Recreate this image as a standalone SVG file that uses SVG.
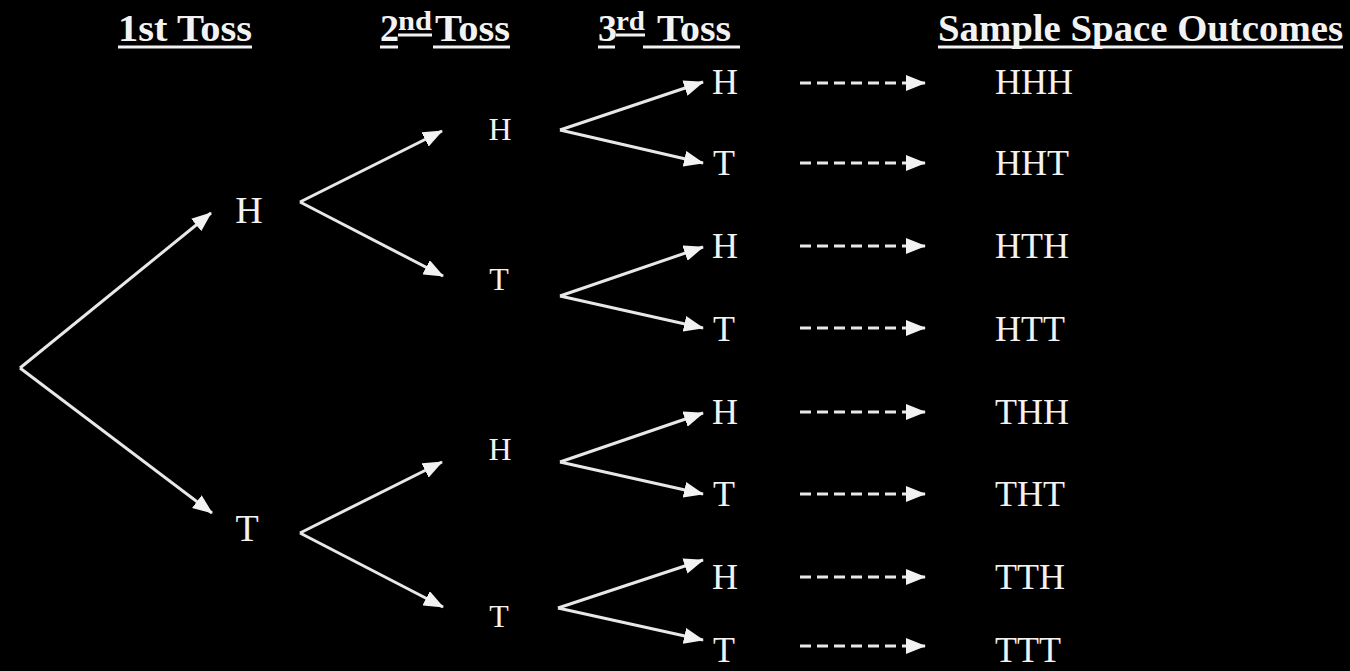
<svg xmlns="http://www.w3.org/2000/svg" width="1350" height="671" viewBox="0 0 1350 671">
<style>
.t{font-family:"Liberation Serif","Times New Roman",serif;fill:#f2f2f2}
.hd{font-weight:bold;font-size:38px}
.sup{font-weight:bold;font-size:28px}
.n1{font-size:38px;text-anchor:middle}
.n2{font-size:32px;text-anchor:middle}
.n3{font-size:36px;text-anchor:middle}
.o{font-size:36px}
.ul{stroke:#f2f2f2;stroke-width:3}
.c{stroke:#e8e8e8;stroke-width:3;fill:none;marker-end:url(#ah)}
.d{stroke:#e8e8e8;stroke-width:3;fill:none;stroke-dasharray:11 6;marker-end:url(#ah)}
</style>
<defs>
<marker id="ah" markerUnits="userSpaceOnUse" markerWidth="20" markerHeight="16" refX="19" refY="8" orient="auto">
<path d="M0,0 L20,8 L0,16 z" fill="#f2f2f2"/>
</marker>
</defs>
<rect width="1350" height="671" fill="#000"/>
<g id="headers">
<g id="h1"><text class="t hd" x="118" y="41" textLength="134" lengthAdjust="spacingAndGlyphs">1st Toss</text><line class="ul" x1="118" y1="47" x2="252" y2="47"/></g>
<g id="h2"><text class="t hd" x="380" y="41">2</text><text class="t sup" x="398" y="30" textLength="34" lengthAdjust="spacingAndGlyphs">nd</text><text class="t hd" x="435" y="41" textLength="75" lengthAdjust="spacingAndGlyphs">Toss</text><line class="ul" x1="380" y1="47" x2="398" y2="47"/><line class="ul" x1="398" y1="35" x2="432" y2="35"/><line class="ul" x1="433" y1="47" x2="510" y2="47"/></g>
<g id="h3"><text class="t hd" x="598" y="41">3</text><text class="t sup" x="616" y="30" textLength="29" lengthAdjust="spacingAndGlyphs">rd</text><text class="t hd" x="657" y="41" textLength="74" lengthAdjust="spacingAndGlyphs">Toss</text><line class="ul" x1="598" y1="47" x2="615" y2="47"/><line class="ul" x1="616" y1="35" x2="645" y2="35"/><line class="ul" x1="643" y1="47" x2="740" y2="47"/></g>
<g id="h4"><text class="t hd" x="938" y="41" textLength="405" lengthAdjust="spacingAndGlyphs">Sample Space Outcomes</text><line class="ul" x1="938" y1="47" x2="1343" y2="47"/></g>
</g>
<g id="connectors">
<path class="c" d="M20,368 L211,213"/>
<path class="c" d="M20,368 L212,513"/>
<path class="c" d="M300,202 L442,131"/>
<path class="c" d="M300,202 L443,276"/>
<path class="c" d="M300,533 L442,462"/>
<path class="c" d="M300,533 L443,607"/>
<path class="c" d="M560,130 L703,82"/>
<path class="c" d="M560,130 L703,163"/>
<path class="c" d="M560,296 L703,247"/>
<path class="c" d="M560,296 L703,328"/>
<path class="c" d="M560,462 L703,413"/>
<path class="c" d="M560,462 L703,494"/>
<path class="c" d="M558,608 L703,560"/>
<path class="c" d="M558,608 L703,640"/>
<path class="d" d="M800,83 L925,83"/>
<path class="d" d="M800,163 L925,163"/>
<path class="d" d="M800,246 L925,246"/>
<path class="d" d="M800,328 L925,328"/>
<path class="d" d="M800,412 L925,412"/>
<path class="d" d="M800,494 L925,494"/>
<path class="d" d="M800,577 L925,577"/>
<path class="d" d="M800,646 L925,646"/>
</g>
<g id="n1H"><text class="t n1" x="249" y="223">H</text></g>
<g id="n1T"><text class="t n1" x="247" y="541">T</text></g>
<g id="n2HH"><text class="t n2" x="500" y="140">H</text></g>
<g id="n2HT"><text class="t n2" x="499" y="290">T</text></g>
<g id="n2TH"><text class="t n2" x="500" y="460">H</text></g>
<g id="n2TT"><text class="t n2" x="499" y="627">T</text></g>
<g id="n3HHH"><text class="t n3" x="725" y="94">H</text></g>
<g id="n3HHT"><text class="t n3" x="724" y="175">T</text></g>
<g id="n3HTH"><text class="t n3" x="725" y="258">H</text></g>
<g id="n3HTT"><text class="t n3" x="724" y="341">T</text></g>
<g id="n3THH"><text class="t n3" x="725" y="424">H</text></g>
<g id="n3THT"><text class="t n3" x="724" y="506">T</text></g>
<g id="n3TTH"><text class="t n3" x="725" y="589">H</text></g>
<g id="n3TTT"><text class="t n3" x="724" y="662">T</text></g>
<g id="oHHH"><text class="t o" x="995" y="94">HHH</text></g>
<g id="oHHT"><text class="t o" x="995" y="175">HHT</text></g>
<g id="oHTH"><text class="t o" x="995" y="258">HTH</text></g>
<g id="oHTT"><text class="t o" x="995" y="341">HTT</text></g>
<g id="oTHH"><text class="t o" x="995" y="424">THH</text></g>
<g id="oTHT"><text class="t o" x="995" y="506">THT</text></g>
<g id="oTTH"><text class="t o" x="995" y="589">TTH</text></g>
<g id="oTTT"><text class="t o" x="995" y="662">TTT</text></g>
</svg>
